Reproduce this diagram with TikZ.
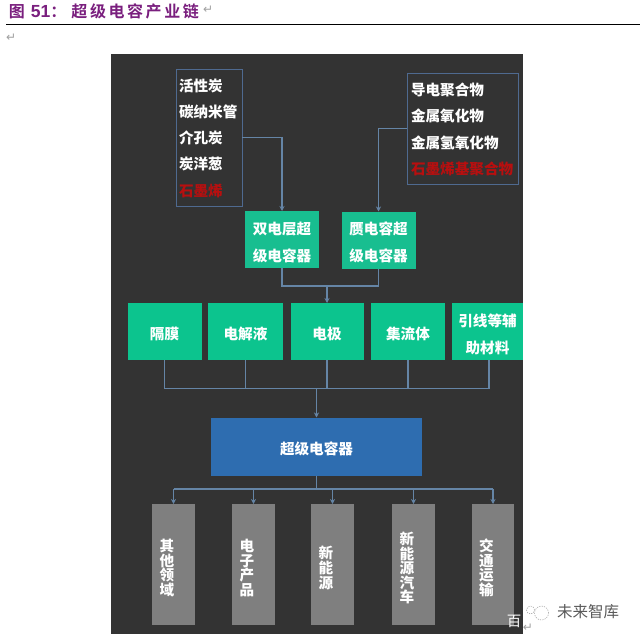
\documentclass[tikz,border=0pt]{standalone}
\usepackage{fontspec}
\usetikzlibrary{arrows.meta}
\setmainfont{Noto Sans CJK SC}
\newfontfamily\titlecjk[LetterSpace=16,BoldFont={Noto Sans CJK SC Bold}]{Noto Sans CJK SC}
\newfontfamily\latinbold{Liberation Sans}
\newfontfamily\symbolfont{DejaVu Sans}
\newcommand{\tstrut}{\rule{0pt}{18pt}}
\definecolor{panelc}{HTML}{333333}
\definecolor{greena}{HTML}{18BE90}
\definecolor{greenb}{HTML}{0CC48E}
\definecolor{bluec}{HTML}{2E6DB0}
\definecolor{greyc}{HTML}{7F7F7F}
\definecolor{linec}{HTML}{6585A6}
\definecolor{framec}{HTML}{4F6A90}
\definecolor{redc}{HTML}{B80F0F}
\definecolor{titlec}{HTML}{7A1F7E}
\definecolor{markc}{HTML}{A0A0A0}
\tikzset{
  every node/.style={inner sep=0pt,outer sep=0pt,font=\fontsize{14.6}{27}\selectfont},
  framebox/.style={draw=framec,line width=1pt,fill=panelc},
  listw/.style={anchor=west,text=white,font=\fontsize{14.6}{26.5}\selectfont\bfseries},
  listr/.style={anchor=west,text=redc,font=\fontsize{14.6}{26.5}\selectfont\bfseries},
  tilebox/.style={align=center,text=white,font=\fontsize{14.6}{27}\selectfont\bfseries},
  upperbox/.style={tilebox,fill=greena,minimum width=74pt,minimum height=57pt},
  middlebox/.style={tilebox,fill=greenb,minimum height=57pt},
  corebox/.style={tilebox,fill=bluec,minimum width=210.5pt,minimum height=58pt},
  usebox/.style={fill=greyc,minimum width=42.5pt,minimum height=121pt},
  usetext/.style={align=center,text=white,font=\fontsize{14.6}{14.6}\selectfont\bfseries},
  linkline/.style={draw=linec,line width=1.1pt},
  linkto/.style={linkline,-{Stealth[length=5pt,width=5pt]}},
  retmark/.style={text=markc,font=\fontsize{12}{12}\selectfont\symbolfont}
}
\begin{document}
\begin{tikzpicture}[x=1pt,y=-1pt]
\useasboundingbox (0,0) rectangle (640,640);
\fill[white] (0,0) rectangle (640,640);
% header
\node[anchor=west,text=titlec,font=\fontsize{16}{16}\selectfont\titlecjk\bfseries] (title) at (9,11)
  {图\hspace{6pt}{\fontsize{17.5}{19}\selectfont\latinbold\bfseries 51}：\hspace{5pt}超级电容产业链};
\node[retmark,anchor=west] (mk1) at (203,10) {↵};
\coordinate (ruleL) at (6,24);
\coordinate (ruleR) at (640,24);
\draw[black,line width=0.8pt] (ruleL) -- (ruleR);
\node[retmark,anchor=west] (mk2) at (6,38) {↵};
% panel
\fill[panelc] (111,54) rectangle (523,633.5);
% source lists
\node[framebox,minimum width=66pt,minimum height=137pt] (L) at (209,137.5) {};
\node[framebox,minimum width=111pt,minimum height=111pt] (R) at (462.5,128.5) {};
\node[listw] (l1) at (179,86) {活性炭};
\node[listw] (l2) at (179,112) {碳纳米管};
\node[listw] (l3) at (179,138) {介孔炭};
\node[listw] (l4) at (179,164) {炭洋葱};
\node[listr] (l5) at (179,191) {石墨烯};
\node[listw] (r1) at (411,90) {导电聚合物};
\node[listw] (r2) at (411,116) {金属氧化物};
\node[listw] (r3) at (411,143) {金属氢氧化物};
\node[listr] (r4) at (411,169) {石墨烯基聚合物};
% capacitor types
\node[upperbox] (edlc) at (282,239.5) {\tstrut 双电层超\\级电容器};
\node[upperbox] (pseudo) at (378.5,240) {\tstrut 赝电容超\\级电容器};
% components
\node[middlebox,minimum width=74pt] (m1) at (164.5,331.5) {\tstrut 隔膜};
\node[middlebox,minimum width=75pt] (m2) at (245.5,331.5) {\tstrut 电解液};
\node[middlebox,minimum width=73pt] (m3) at (327,331.5) {\tstrut 电极};
\node[middlebox,minimum width=74pt] (m4) at (408,331.5) {\tstrut 集流体};
\node[middlebox,minimum width=71pt] (m5) at (487.5,331.5) {\tstrut 引线等辅\\助材料};
\node[corebox] (sc) at (316.5,446.5) {\tstrut 超级电容器};
% applications
\node[usebox] (u1) at (173.5,564.5) {};
\node[usebox] (u2) at (253.5,564.5) {};
\node[usebox] (u3) at (332.5,564.5) {};
\node[usebox] (u4) at (413.5,564.5) {};
\node[usebox] (u5) at (493,564.5) {};
\node[usetext] (t1) at (167,568) {其\\他\\领\\域};
\node[usetext] (t2) at (247,568) {电\\子\\产\\品};
\node[usetext] (t3) at (326,568) {新\\能\\源};
\node[usetext] (t4) at (407,568) {新\\能\\源\\汽\\车};
\node[usetext] (t5) at (486.5,568) {交\\通\\运\\输};
% junctions
\coordinate (jA) at (0,286);
\coordinate (jB) at (0,388.5);
\coordinate (jC) at (0,489);
\coordinate (m5drop) at ([xshift=1.5pt]m5.south);
% connectors
\draw[linkto] (L.east) -| (edlc.north);
\draw[linkto] (R.west) -| (pseudo.north);
\draw[linkline] (edlc.south) |- (jA -| pseudo.south) -- (pseudo.south);
\draw[linkto] (jA -| m3.north) -- (m3.north);
\draw[linkline] (m1.south) |- (jB -| m5drop) -- (m5drop);
\draw[linkline] (m2.south) -- (jB -| m2.south);
\draw[linkline] (m3.south) -- (jB -| m3.south);
\draw[linkline] (m4.south) -- (jB -| m4.south);
\draw[linkto] (jB -| sc.north) -- (sc.north);
\draw[linkline] (sc.south) -- (jC -| sc.south);
\draw[linkline] (jC -| u1.north) -- (jC -| u5.north);
\draw[linkto] (jC -| u1.north) -- (u1.north);
\draw[linkto] (jC -| u2.north) -- (u2.north);
\draw[linkto] (jC -| u3.north) -- (u3.north);
\draw[linkto] (jC -| u4.north) -- (u4.north);
\draw[linkto] (jC -| u5.north) -- (u5.north);
% footer mark
\node[anchor=center,text=white,font=\fontsize{14.5}{15}\selectfont] (bai) at (514,621) {百};
\draw[black!40,line width=0.5pt,dash pattern=on 1.2pt off 1.2pt] (541.5,613) circle (7pt);
\draw[black!40,line width=0.5pt,dash pattern=on 1.2pt off 1.2pt] (530.5,610) circle (4pt);
\node[anchor=center,text=black!65,font=\fontsize{15.5}{16}\selectfont] (brand) at (588,612) {未来智库};
\node[retmark,anchor=center] (mk3) at (528,628) {↵};
\end{tikzpicture}
\end{document}
